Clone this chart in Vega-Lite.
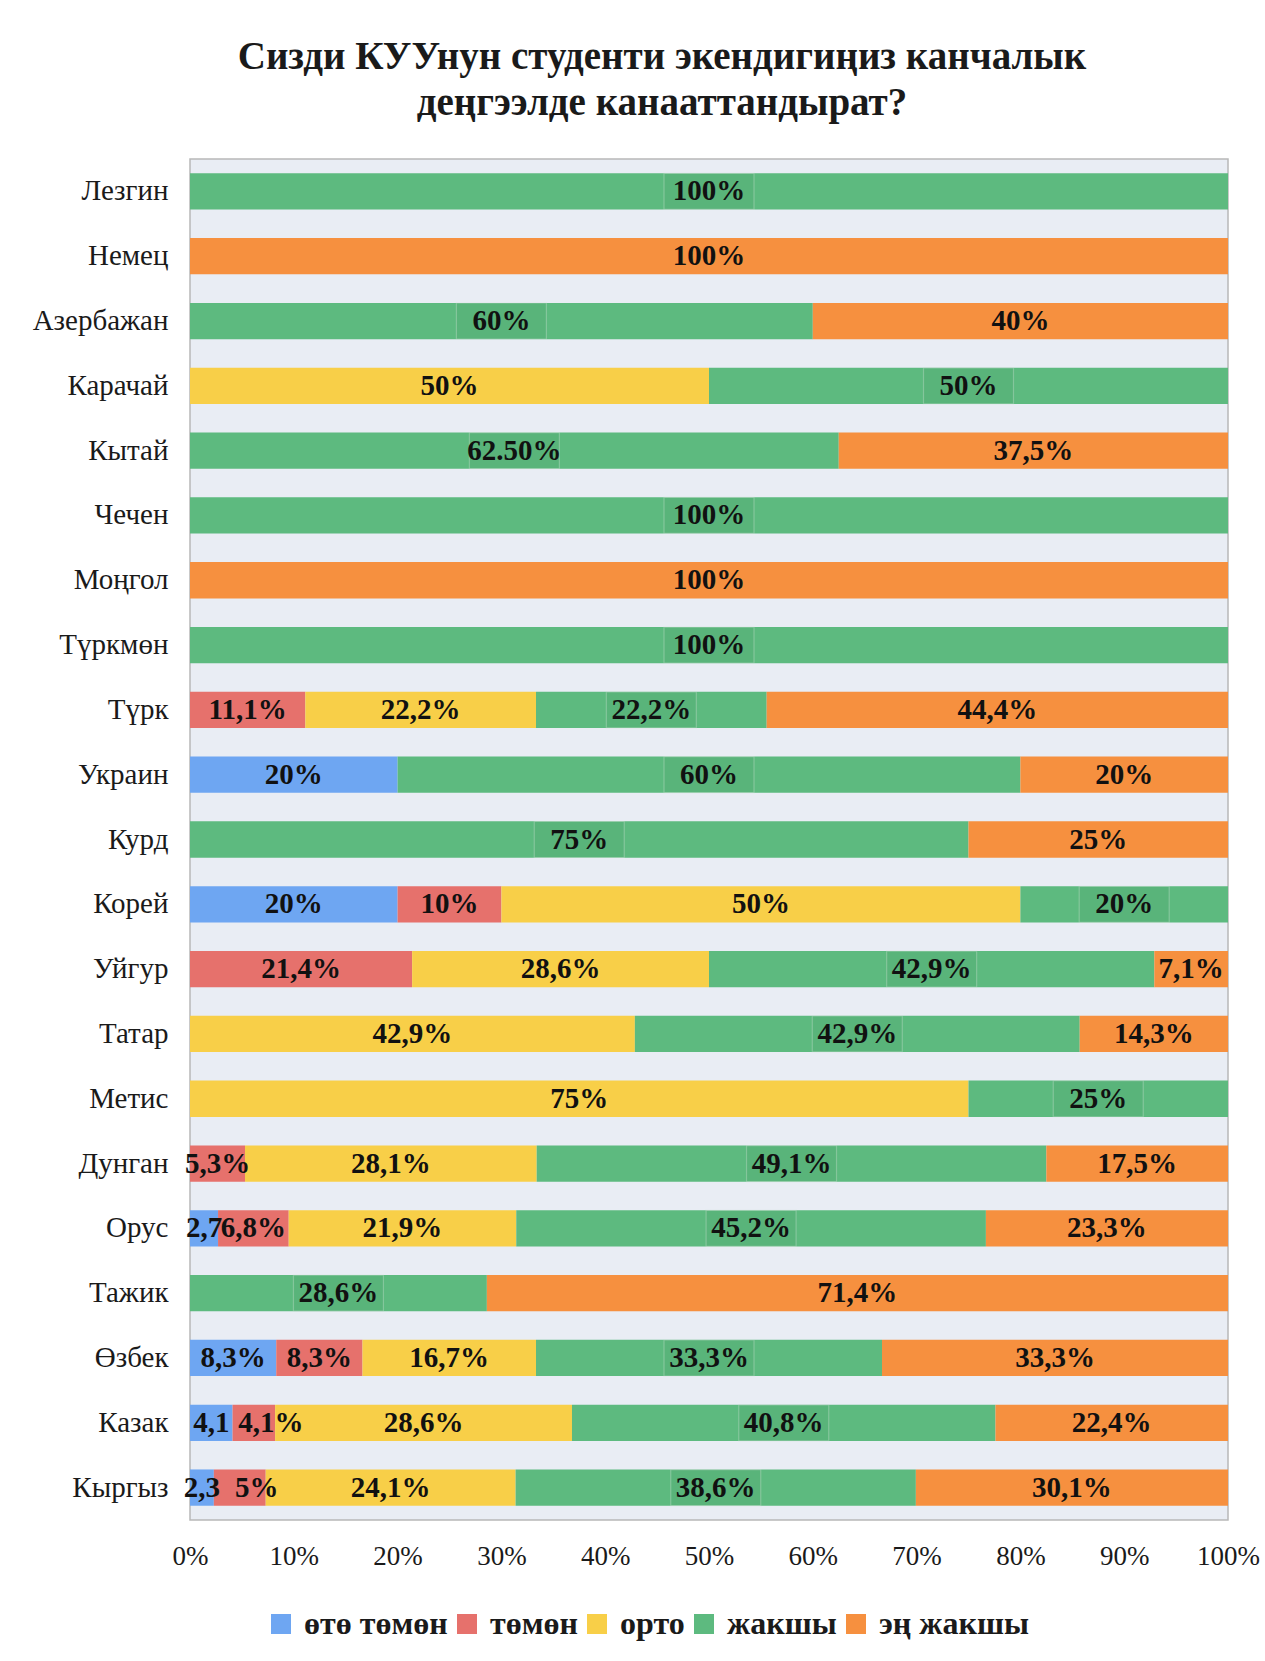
{
  "$schema": "https://vega.github.io/schema/vega-lite/v6.json",
  "width": 1038,
  "height": 1361,
  "autosize": {"type": "none"},
  "padding": {"left": 190, "top": 159, "right": 37, "bottom": 141},
  "background": "white",
  "title": {
    "text": ["Сизди КУУнун студенти экендигиңиз канчалык", "деңгээлде канааттандырат?"],
    "font": "Liberation Serif",
    "fontSize": 39,
    "fontWeight": "bold",
    "color": "#1a1a1a",
    "anchor": "middle",
    "dx": -47,
    "offset": 36,
    "lineHeight": 46
  },
  "config": {
    "view": {"fill": "#e9edf4", "stroke": "#b8b8b8", "strokeWidth": 1.5},
    "font": "Liberation Serif"
  },
  "data": {
    "values": [
      {"cat": "Лезгин", "level": "жакшы", "k": 4, "v": 100, "lab": "100%"},
      {"cat": "Немец", "level": "эң жакшы", "k": 5, "v": 100, "lab": "100%"},
      {"cat": "Азербажан", "level": "жакшы", "k": 4, "v": 60, "lab": "60%"},
      {"cat": "Азербажан", "level": "эң жакшы", "k": 5, "v": 40, "lab": "40%"},
      {"cat": "Карачай", "level": "орто", "k": 3, "v": 50, "lab": "50%"},
      {"cat": "Карачай", "level": "жакшы", "k": 4, "v": 50, "lab": "50%"},
      {"cat": "Кытай", "level": "жакшы", "k": 4, "v": 62.5, "lab": "62.50%"},
      {"cat": "Кытай", "level": "эң жакшы", "k": 5, "v": 37.5, "lab": "37,5%"},
      {"cat": "Чечен", "level": "жакшы", "k": 4, "v": 100, "lab": "100%"},
      {"cat": "Моңгол", "level": "эң жакшы", "k": 5, "v": 100, "lab": "100%"},
      {"cat": "Түркмөн", "level": "жакшы", "k": 4, "v": 100, "lab": "100%"},
      {"cat": "Түрк", "level": "төмөн", "k": 2, "v": 11.1, "lab": "11,1%"},
      {"cat": "Түрк", "level": "орто", "k": 3, "v": 22.2, "lab": "22,2%"},
      {"cat": "Түрк", "level": "жакшы", "k": 4, "v": 22.2, "lab": "22,2%"},
      {"cat": "Түрк", "level": "эң жакшы", "k": 5, "v": 44.4, "lab": "44,4%"},
      {"cat": "Украин", "level": "өтө төмөн", "k": 1, "v": 20, "lab": "20%"},
      {"cat": "Украин", "level": "жакшы", "k": 4, "v": 60, "lab": "60%"},
      {"cat": "Украин", "level": "эң жакшы", "k": 5, "v": 20, "lab": "20%"},
      {"cat": "Курд", "level": "жакшы", "k": 4, "v": 75, "lab": "75%"},
      {"cat": "Курд", "level": "эң жакшы", "k": 5, "v": 25, "lab": "25%"},
      {"cat": "Корей", "level": "өтө төмөн", "k": 1, "v": 20, "lab": "20%"},
      {"cat": "Корей", "level": "төмөн", "k": 2, "v": 10, "lab": "10%"},
      {"cat": "Корей", "level": "орто", "k": 3, "v": 50, "lab": "50%"},
      {"cat": "Корей", "level": "жакшы", "k": 4, "v": 20, "lab": "20%"},
      {"cat": "Уйгур", "level": "төмөн", "k": 2, "v": 21.4, "lab": "21,4%"},
      {"cat": "Уйгур", "level": "орто", "k": 3, "v": 28.6, "lab": "28,6%"},
      {"cat": "Уйгур", "level": "жакшы", "k": 4, "v": 42.9, "lab": "42,9%"},
      {"cat": "Уйгур", "level": "эң жакшы", "k": 5, "v": 7.1, "lab": "7,1%"},
      {"cat": "Татар", "level": "орто", "k": 3, "v": 42.9, "lab": "42,9%"},
      {"cat": "Татар", "level": "жакшы", "k": 4, "v": 42.9, "lab": "42,9%"},
      {"cat": "Татар", "level": "эң жакшы", "k": 5, "v": 14.3, "lab": "14,3%"},
      {"cat": "Метис", "level": "орто", "k": 3, "v": 75, "lab": "75%"},
      {"cat": "Метис", "level": "жакшы", "k": 4, "v": 25, "lab": "25%"},
      {"cat": "Дунган", "level": "төмөн", "k": 2, "v": 5.3, "lab": "5,3%"},
      {"cat": "Дунган", "level": "орто", "k": 3, "v": 28.1, "lab": "28,1%"},
      {"cat": "Дунган", "level": "жакшы", "k": 4, "v": 49.1, "lab": "49,1%"},
      {"cat": "Дунган", "level": "эң жакшы", "k": 5, "v": 17.5, "lab": "17,5%"},
      {"cat": "Орус", "level": "өтө төмөн", "k": 1, "v": 2.7, "lab": "2,7"},
      {"cat": "Орус", "level": "төмөн", "k": 2, "v": 6.8, "lab": "6,8%"},
      {"cat": "Орус", "level": "орто", "k": 3, "v": 21.9, "lab": "21,9%"},
      {"cat": "Орус", "level": "жакшы", "k": 4, "v": 45.2, "lab": "45,2%"},
      {"cat": "Орус", "level": "эң жакшы", "k": 5, "v": 23.3, "lab": "23,3%"},
      {"cat": "Тажик", "level": "жакшы", "k": 4, "v": 28.6, "lab": "28,6%"},
      {"cat": "Тажик", "level": "эң жакшы", "k": 5, "v": 71.4, "lab": "71,4%"},
      {"cat": "Өзбек", "level": "өтө төмөн", "k": 1, "v": 8.3, "lab": "8,3%"},
      {"cat": "Өзбек", "level": "төмөн", "k": 2, "v": 8.3, "lab": "8,3%"},
      {"cat": "Өзбек", "level": "орто", "k": 3, "v": 16.7, "lab": "16,7%"},
      {"cat": "Өзбек", "level": "жакшы", "k": 4, "v": 33.3, "lab": "33,3%"},
      {"cat": "Өзбек", "level": "эң жакшы", "k": 5, "v": 33.3, "lab": "33,3%"},
      {"cat": "Казак", "level": "өтө төмөн", "k": 1, "v": 4.1, "lab": "4,1"},
      {"cat": "Казак", "level": "төмөн", "k": 2, "v": 4.1, "lab": "4,1%"},
      {"cat": "Казак", "level": "орто", "k": 3, "v": 28.6, "lab": "28,6%"},
      {"cat": "Казак", "level": "жакшы", "k": 4, "v": 40.8, "lab": "40,8%"},
      {"cat": "Казак", "level": "эң жакшы", "k": 5, "v": 22.4, "lab": "22,4%"},
      {"cat": "Кыргыз", "level": "өтө төмөн", "k": 1, "v": 2.3, "lab": "2,3"},
      {"cat": "Кыргыз", "level": "төмөн", "k": 2, "v": 5, "lab": "5%"},
      {"cat": "Кыргыз", "level": "орто", "k": 3, "v": 24.1, "lab": "24,1%"},
      {"cat": "Кыргыз", "level": "жакшы", "k": 4, "v": 38.6, "lab": "38,6%"},
      {"cat": "Кыргыз", "level": "эң жакшы", "k": 5, "v": 30.1, "lab": "30,1%"}
    ]
  },
  "encoding": {
    "y": {
      "field": "cat",
      "type": "nominal",
      "sort": null,
      "scale": {"paddingInner": 0.44, "paddingOuter": 0.22},
      "axis": {
        "title": null,
        "ticks": false,
        "domain": false,
        "labelFont": "Liberation Serif",
        "labelFontSize": 29,
        "labelColor": "#1a1a1a",
        "labelPadding": 22
      }
    },
    "order": {"field": "k", "type": "quantitative"}
  },
  "layer": [
    {
      "mark": {"type": "bar"},
      "encoding": {
        "x": {
          "field": "v",
          "type": "quantitative",
          "stack": "normalize",
          "scale": {"domain": [0, 1], "nice": false},
          "axis": {
            "title": null,
            "format": ".0%",
            "values": [0, 0.1, 0.2, 0.3, 0.4, 0.5, 0.6, 0.7, 0.8, 0.9, 1],
            "labelOverlap": false,
            "ticks": false,
            "domain": false,
            "grid": false,
            "labelFont": "Liberation Serif",
            "labelFontSize": 27,
            "labelColor": "#1a1a1a",
            "labelPadding": 23,
            "labelFlush": false
          }
        },
        "color": {
          "field": "level",
          "type": "nominal",
          "scale": {
            "domain": ["өтө төмөн", "төмөн", "орто", "жакшы", "эң жакшы"],
            "range": ["#6ea6f2", "#e6716c", "#f8cf48", "#5dba7f", "#f6903f"]
          },
          "legend": {
            "title": null,
            "orient": "none",
            "legendX": 75,
            "legendY": 1449,
            "direction": "horizontal",
            "symbolType": "square",
            "symbolSize": 400,
            "symbolStrokeWidth": 0,
            "labelFont": "Liberation Serif",
            "labelFontSize": 32,
            "labelFontWeight": "bold",
            "labelColor": "#1a1a1a",
            "columnPadding": 3,
            "labelOffset": 7
          }
        }
      }
    },
    {
      "mark": {
        "type": "point",
        "shape": "M-1,-0.4H1V0.4H-1Z",
        "filled": true,
        "fill": "#4a9866",
        "stroke": "#cfe3d6",
        "strokeWidth": 1.2,
        "size": 8100
      },
      "encoding": {
        "x": {"field": "v", "type": "quantitative", "stack": "normalize", "bandPosition": 0.5},
        "detail": {"field": "level"},
        "fillOpacity": {"condition": {"test": "datum.level === 'жакшы'", "value": 0.22}, "value": 0},
        "strokeOpacity": {"condition": {"test": "datum.level === 'жакшы'", "value": 0.5}, "value": 0}
      }
    },
    {
      "mark": {
        "type": "text",
        "font": "Liberation Serif",
        "fontSize": 29,
        "fontWeight": "bold",
        "color": "#111111"
      },
      "encoding": {
        "x": {"field": "v", "type": "quantitative", "stack": "normalize", "bandPosition": 0.5},
        "detail": {"field": "level"},
        "text": {"field": "lab"},
        "opacity": {"condition": {"test": "datum.k === 2 && (datum.cat === 'Казак' || datum.cat === 'Кыргыз')", "value": 0}, "value": 1}
      }
    },
    {
      "mark": {
        "type": "text",
        "font": "Liberation Serif",
        "fontSize": 29,
        "fontWeight": "bold",
        "color": "#111111",
        "dx": 17
      },
      "encoding": {
        "x": {"field": "v", "type": "quantitative", "stack": "normalize", "bandPosition": 0.5},
        "detail": {"field": "level"},
        "text": {"field": "lab"},
        "opacity": {"condition": {"test": "datum.k === 2 && (datum.cat === 'Казак' || datum.cat === 'Кыргыз')", "value": 1}, "value": 0}
      }
    }
  ]
}
